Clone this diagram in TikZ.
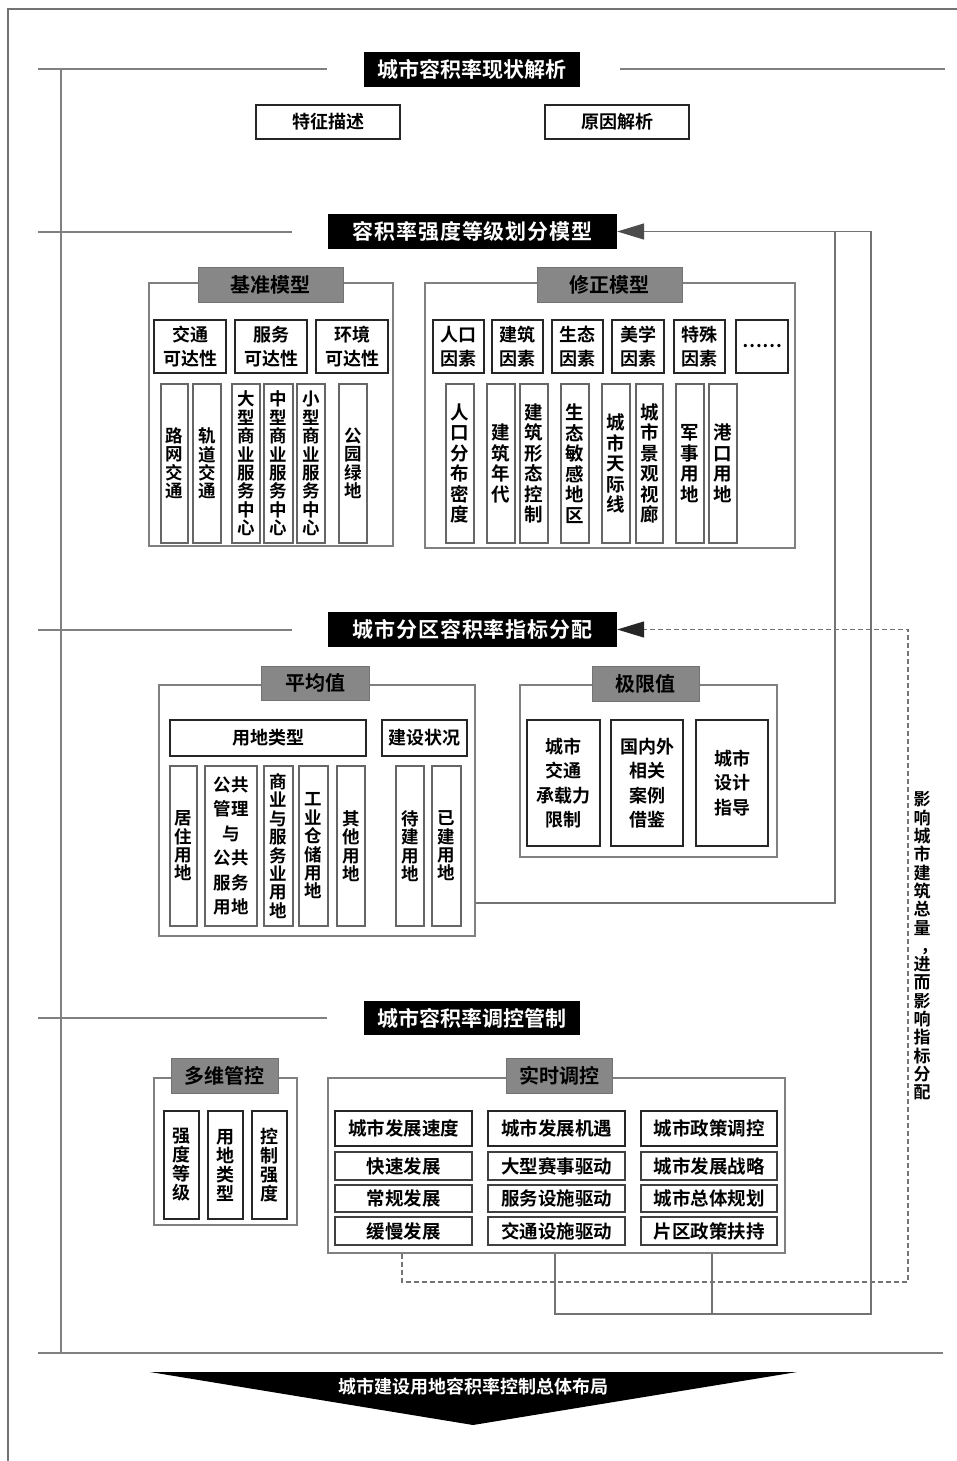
\documentclass[tikz,border=0pt]{standalone}
\usepackage{fontspec}
\setmainfont{Noto Sans CJK SC Bold}
\usetikzlibrary{arrows.meta}
\newcommand\mkbox[7]{\node[#1,minimum width={#5-#3},minimum height={#6-#4}] (#2) at ({(#3+#5)/2},{(#4+#6)/2}) {#7};}
\begin{document}
\begin{tikzpicture}[x=1pt,y=-1pt,
  secline/.style={draw=black!50,line width=1.8pt},
  frameline/.style={draw=black!55,line width=1.2pt},
  title/.style={fill=black,text=white,inner sep=0pt,font=\fontsize{21}{24}\selectfont},
  titlew/.style={title,font=\fontsize{21}{24}\selectfont\addfontfeature{LetterSpace=4}},
  grp/.style={draw=black!50,line width=1.4pt,inner sep=0pt},
  lab/.style={fill=black!47,draw=black!55,line width=0.8pt,inner sep=0pt,font=\fontsize{20}{22}\selectfont},
  hb/.style={draw=black!85,line width=1.8pt,fill=white,inner sep=0pt,align=center,font=\fontsize{18}{24}\selectfont},
  hbx/.style={hb,font=\fontsize{18}{24.5}\selectfont},
  vb/.style={draw=black!60,line width=1.2pt,inner sep=0pt,align=center,font=\fontsize{17.5}{18.4}\selectfont},
  vbw/.style={vb,font=\fontsize{18.5}{20.5}\selectfont},
  vbp/.style={vb,font=\fontsize{17.5}{24.4}\selectfont},
  vbd/.style={vb,draw=black!85,line width=1.6pt,font=\fontsize{18}{19}\selectfont},
  gh/.style={draw=black!85,line width=1.7pt,inner sep=0pt,font=\fontsize{18.5}{22}\selectfont},
  gc/.style={draw=black!75,line width=1.3pt,inner sep=0pt,font=\fontsize{18.5}{22}\selectfont},
  link/.style={draw=black!55,line width=1.5pt},
  dlink/.style={link,dash pattern=on 5pt off 3pt},
  tipA/.style={-{Triangle[length=27pt,width=16pt,color=black!70]}},
  tipB/.style={-{Triangle[length=27pt,width=16pt,color=black!85]}}
]
\useasboundingbox (0,0) rectangle (957,1461);
\fill[white] (0,0) rectangle (957,1461);

% frame
\draw[frameline] (957,9) -- (8,9) -- (8,1461);

% section separator lines
\draw[secline] (38,69) -- (327,69);
\draw[secline] (620,69) -- (945,69);
\draw[secline] (38,232) -- (292,232);
\draw[secline] (38,630) -- (292,630);
\draw[secline] (38,1018) -- (327,1018);
\draw[secline] (38,1353) -- (943,1353);
\draw[secline] (61,69) -- (61,1353);

% ===== Section 1 =====
\mkbox{title}{t1}{364}{52}{580}{87}{城市容积率现状解析}
\mkbox{hb}{s1a}{256}{105}{400}{139}{特征描述}
\mkbox{hb}{s1b}{545}{105}{689}{139}{原因解析}

% ===== Section 2 =====
\mkbox{titlew}{t2}{328}{214}{617}{249}{容积率强度等级划分模型}

\mkbox{grp}{jz}{149}{283}{393}{546}{}
\mkbox{lab}{jzl}{198}{267}{343}{302}{基准模型}
\mkbox{hb}{jz1}{154}{320}{226}{373}{交通\\可达性}
\mkbox{hb}{jz2}{235}{320}{307}{373}{服务\\可达性}
\mkbox{hb}{jz3}{316}{320}{388}{373}{环境\\可达性}
\mkbox{vb}{jv1}{161}{384}{188}{543}{路\\网\\交\\通}
\mkbox{vb}{jv2}{193}{384}{221}{543}{轨\\道\\交\\通}
\mkbox{vb}{jv3}{232}{384}{260}{543}{大\\型\\商\\业\\服\\务\\中\\心}
\mkbox{vb}{jv4}{264}{384}{293}{543}{中\\型\\商\\业\\服\\务\\中\\心}
\mkbox{vb}{jv5}{297}{384}{325}{543}{小\\型\\商\\业\\服\\务\\中\\心}
\mkbox{vb}{jv6}{339}{384}{367}{543}{公\\园\\绿\\地}

\mkbox{grp}{xz}{425}{283}{795}{548}{}
\mkbox{lab}{xzl}{537}{267}{682}{302}{修正模型}
\mkbox{hb}{xz1}{433}{320}{484}{373}{人口\\因素}
\mkbox{hb}{xz2}{492}{320}{543}{373}{建筑\\因素}
\mkbox{hb}{xz3}{552}{320}{603}{373}{生态\\因素}
\mkbox{hb}{xz4}{612}{320}{664}{373}{美学\\因素}
\mkbox{hb}{xz5}{674}{320}{725}{373}{特殊\\因素}
\mkbox{hb}{xz6}{736}{320}{788}{373}{……}
\mkbox{vbw}{xv1}{446}{384}{474}{543}{人\\口\\分\\布\\密\\度}
\mkbox{vbw}{xv2}{487}{384}{515}{543}{建\\筑\\年\\代}
\mkbox{vbw}{xv3}{520}{384}{548}{543}{建\\筑\\形\\态\\控\\制}
\mkbox{vbw}{xv4}{561}{384}{589}{543}{生\\态\\敏\\感\\地\\区}
\mkbox{vbw}{xv5}{602}{384}{630}{543}{城\\市\\天\\际\\线}
\mkbox{vbw}{xv6}{636}{384}{663}{543}{城\\市\\景\\观\\视\\廊}
\mkbox{vbw}{xv7}{676}{384}{704}{543}{军\\事\\用\\地}
\mkbox{vbw}{xv8}{709}{384}{737}{543}{港\\口\\用\\地}

% ===== Section 3 =====
\mkbox{titlew}{t3}{328}{612}{617}{647}{城市分区容积率指标分配}

\mkbox{grp}{avg}{159}{685}{475}{936}{}
\mkbox{lab}{avgl}{261}{666}{369}{700}{平均值}
\mkbox{hb}{a1}{170}{720}{366}{756}{用地类型}
\mkbox{hb}{a2}{382}{720}{467}{756}{建设状况}
\mkbox{vb}{av1}{170}{766}{197}{926}{居\\住\\用\\地}
\mkbox{vbp}{av2}{205}{766}{257}{926}{公共\\管理\\与\\公共\\服务\\用地}
\mkbox{vb}{av3}{264}{766}{293}{926}{商\\业\\与\\服\\务\\业\\用\\地}
\mkbox{vb}{av4}{299}{766}{328}{926}{工\\业\\仓\\储\\用\\地}
\mkbox{vb}{av5}{337}{766}{365}{926}{其\\他\\用\\地}
\mkbox{vb}{av6}{396}{766}{424}{926}{待\\建\\用\\地}
\mkbox{vb}{av7}{432}{766}{461}{926}{已\\建\\用\\地}

\mkbox{grp}{lim}{520}{685}{777}{857}{}
\mkbox{lab}{liml}{592}{666}{699}{701}{极限值}
\mkbox{hbx}{l1}{527}{720}{600}{846}{城市\\交通\\承载力\\限制}
\mkbox{hbx}{l2}{611}{720}{683}{846}{国内外\\相关\\案例\\借鉴}
\mkbox{hbx}{l3}{696}{720}{768}{846}{城市\\设计\\指导}

% ===== Section 4 =====
\mkbox{title}{t4}{364}{1001}{580}{1035}{城市容积率调控管制}

\mkbox{grp}{dw}{154}{1078}{297}{1225}{}
\mkbox{lab}{dwl}{171}{1058}{278}{1093}{多维管控}
\mkbox{vbd}{dv1}{164}{1111}{199}{1219}{强\\度\\等\\级}
\mkbox{vbd}{dv2}{208}{1111}{243}{1219}{用\\地\\类\\型}
\mkbox{vbd}{dv3}{252}{1111}{287}{1219}{控\\制\\强\\度}

\mkbox{grp}{rt}{328}{1078}{785}{1253}{}
\mkbox{lab}{rtl}{506}{1058}{612}{1093}{实时调控}
\mkbox{gh}{g11}{335}{1111}{472}{1146}{城市发展速度}
\mkbox{gc}{g12}{335}{1152}{472}{1180}{快速发展}
\mkbox{gc}{g13}{335}{1185}{472}{1212}{常规发展}
\mkbox{gc}{g14}{335}{1217}{472}{1245}{缓慢发展}
\mkbox{gh}{g21}{488}{1111}{625}{1146}{城市发展机遇}
\mkbox{gc}{g22}{488}{1152}{625}{1180}{大型赛事驱动}
\mkbox{gc}{g23}{488}{1185}{625}{1212}{服务设施驱动}
\mkbox{gc}{g24}{488}{1217}{625}{1245}{交通设施驱动}
\mkbox{gh}{g31}{641}{1111}{777}{1146}{城市政策调控}
\mkbox{gc}{g32}{641}{1152}{777}{1180}{城市发展战略}
\mkbox{gc}{g33}{641}{1185}{777}{1212}{城市总体规划}
\mkbox{gc}{g34}{641}{1217}{777}{1245}{片区政策扶持}

% ===== connectors =====
\coordinate (c402) at (402,0);
\coordinate (c555) at (555,0);
\coordinate (c712) at (712,1314);
\coordinate (cR) at (871,1314);
\coordinate (cD) at (908,1282);
\coordinate (c903) at (0,903);
\coordinate (c835) at (835,232);

\draw[link,tipA] (rt.south -| c555) |- (cR) |- (t2.east);
\draw[link] (rt.south -| c712) -- (c712);
\draw[link] (avg.east |- c903) -| (c835);
\draw[dlink,tipB] (rt.south -| c402) |- (cD) |- (t3.east);

\node[inner sep=0pt,align=center,font=\fontsize{17}{18.3}\selectfont] (note) at (922,946)
 {影\\响\\城\\市\\建\\筑\\总\\量\\\makebox[17pt][l]{\hspace{7pt}，}\\进\\而\\影\\响\\指\\标\\分\\配};

% ===== final arrow =====
\coordinate (fa) at (150,1372);
\coordinate (fb) at (797,1372);
\coordinate (fc) at (473,1425);
\fill[black] (fa) -- (fb) -- (fc) -- cycle;
\node[text=white,inner sep=0pt,font=\fontsize{18}{20}\selectfont] (final) at (473,1387) {城市建设用地容积率控制总体布局};
\end{tikzpicture}
\end{document}
